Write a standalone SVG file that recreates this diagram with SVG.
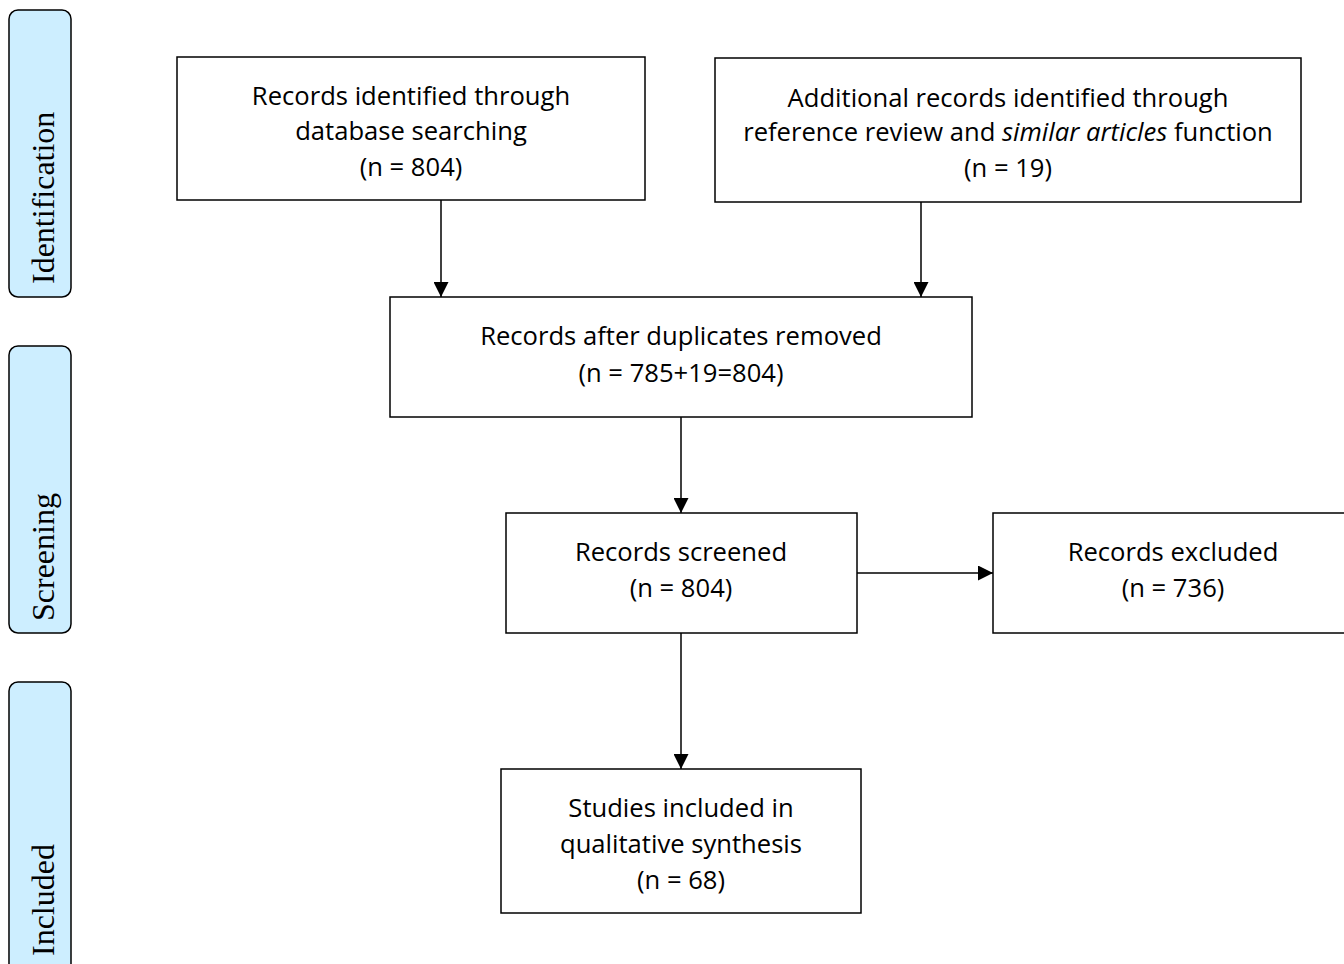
<svg xmlns="http://www.w3.org/2000/svg" width="1344" height="964" viewBox="0 0 1344 964">
<style>
.box{fill:#fff;stroke:#000;stroke-width:1.5}
.side{fill:#cdeeff;stroke:#000;stroke-width:1.5}
.t{font-family:"Open Sans","Liberation Sans",sans-serif;font-size:25.6px;text-anchor:middle;fill:#000}
.s{font-family:"Liberation Serif","DejaVu Serif",serif;font-size:32px;fill:#000}
.c{stroke:#000;stroke-width:1.5;fill:none;marker-end:url(#ah)}
</style>
<defs>
<marker id="ah" markerWidth="15" markerHeight="15" refX="15" refY="7.5" orient="auto" markerUnits="userSpaceOnUse" viewBox="0 0 15 15">
<path d="M0,0 L15,7.5 L0,15 Z" fill="#000"/>
</marker>
</defs>
<rect width="1344" height="964" fill="#fff"/>
<g id="phase-identification">
<rect class="side" x="9" y="10" width="62" height="287" rx="9"/>
<text class="s" transform="translate(54,284) rotate(-90)">Identification</text>
</g>
<g id="phase-screening">
<rect class="side" x="9" y="346" width="62" height="287" rx="9"/>
<text class="s" transform="translate(54,621) rotate(-90)">Screening</text>
</g>
<g id="phase-included">
<rect class="side" x="9" y="682" width="62" height="300" rx="9"/>
<text class="s" transform="translate(54,956) rotate(-90)">Included</text>
</g>
<g id="connectors">
<path class="c" d="M441,200 V297"/>
<path class="c" d="M921,202 V297"/>
<path class="c" d="M681,417 V513"/>
<path class="c" d="M857,573 H993"/>
<path class="c" d="M681,633 V769"/>
</g>
<g id="n1">
<rect class="box" x="177" y="57" width="468" height="143"/>
<text class="t" x="411" y="105">Records identified through</text>
<text class="t" x="411" y="140">database searching</text>
<text class="t" x="411" y="176">(n = 804)</text>
</g>
<g id="n2">
<rect class="box" x="715" y="58" width="586" height="144"/>
<text class="t" x="1008" y="107">Additional records identified through</text>
<text class="t" x="1008" y="141">reference review and <tspan font-style="italic">similar articles</tspan> function</text>
<text class="t" x="1008" y="177">(n = 19)</text>
</g>
<g id="n3">
<rect class="box" x="390" y="297" width="582" height="120"/>
<text class="t" x="681" y="345">Records after duplicates removed</text>
<text class="t" x="681" y="382">(n = 785+19=804)</text>
</g>
<g id="n4">
<rect class="box" x="506" y="513" width="351" height="120"/>
<text class="t" x="681" y="561">Records screened</text>
<text class="t" x="681" y="597">(n = 804)</text>
</g>
<g id="n5">
<rect class="box" x="993" y="513" width="360" height="120"/>
<text class="t" x="1173" y="561">Records excluded</text>
<text class="t" x="1173" y="597">(n = 736)</text>
</g>
<g id="n6">
<rect class="box" x="501" y="769" width="360" height="144"/>
<text class="t" x="681" y="817">Studies included in</text>
<text class="t" x="681" y="853">qualitative synthesis</text>
<text class="t" x="681" y="889">(n = 68)</text>
</g>
</svg>
